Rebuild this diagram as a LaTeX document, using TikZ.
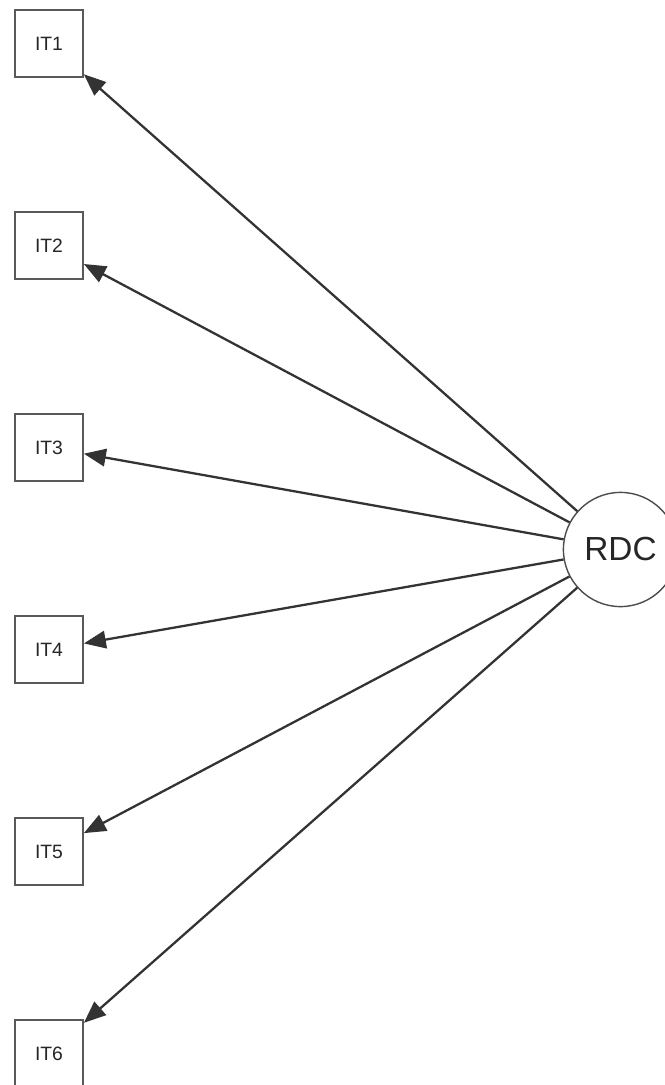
\documentclass[tikz,border=0pt]{standalone}
\usepackage{fontspec}
\setmainfont{Liberation Sans}
\usetikzlibrary{arrows.meta}
\begin{document}
\begin{tikzpicture}[x=0.02cm,y=-0.02cm,
  itembox/.style={draw=black!65, line width=1.2pt, fill=white, minimum width=38.5pt, minimum height=38pt, inner sep=0pt, font=\fontsize{11}{12}\selectfont, text=black!85},
  latent/.style={draw=black!70, line width=0.8pt, fill=white, circle, minimum size=65pt, inner sep=0pt, font=\fontsize{19}{20}\selectfont, text=black!85},
  arr/.style={draw=black!80, line width=1.3pt, -{Triangle[length=12.5pt, width=10pt]}}]
\useasboundingbox (0,0) rectangle (664,1085);
\node[itembox] (it1) at (49,43.5) {IT1};
\node[itembox] (it2) at (49,245.5) {IT2};
\node[itembox] (it3) at (49,447.5) {IT3};
\node[itembox] (it4) at (49,649.5) {IT4};
\node[itembox] (it5) at (49,851.5) {IT5};
\node[itembox] (it6) at (49,1053.5) {IT6};
\node[latent] (rdc) at (620.5,549.5) {RDC};
\foreach \i in {1,...,6} {\draw[arr] (rdc) -- (it\i);}
\end{tikzpicture}
\end{document}
